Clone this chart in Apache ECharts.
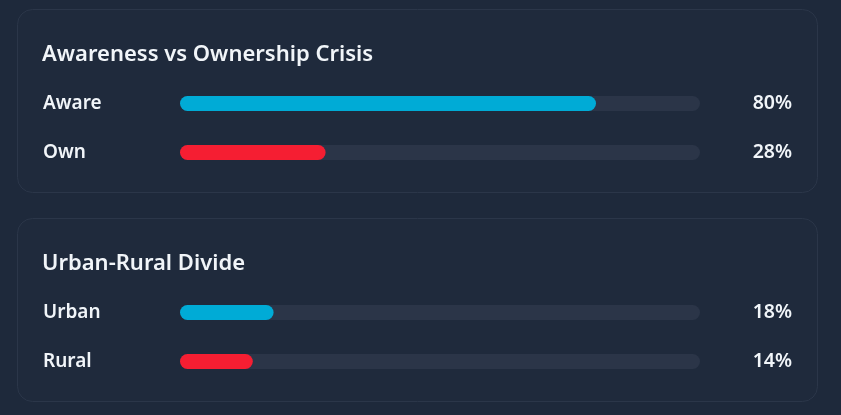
<!DOCTYPE html>
<html>
<head>
<meta charset="utf-8">
<script src="https://cdn.jsdelivr.net/npm/echarts@6/dist/echarts.min.js"></script>
<style>
  html, body { margin: 0; padding: 0; background: #1e293b; }
  #chart { width: 841px; height: 415px; }
</style>
</head>
<body>
<div id="chart"></div>
<script>
// panel 1
const awarenessTitle = 'Awareness vs Ownership Crisis';
const awarenessCats = ['Aware', 'Own'];
const awarenessValues = [80, 28];
// panel 2
const divideTitle = 'Urban-Rural Divide';
const divideCats = ['Urban', 'Rural'];
const divideValues = [18, 14];

const barColors = ['#00abd6', '#f51e32'];
const font = '"Noto Sans", "Open Sans", sans-serif';
const textColor = '#f1f5f9';

const chart = echarts.init(document.getElementById('chart'));

function axesFor(idx, cats, values) {
    return [
        {
            type: 'category', gridIndex: idx, data: cats, inverse: true, position: 'left',
            axisLine: { show: false }, axisTick: { show: false },
            axisLabel: { align: 'left', margin: 137, padding: [4, 0, 0, 0], color: textColor,
                         fontFamily: font, fontSize: 19, fontWeight: 600 }
        },
        {
            type: 'category', gridIndex: idx, data: cats, inverse: true, position: 'right',
            axisLine: { show: false }, axisTick: { show: false },
            axisLabel: {
                align: 'right', margin: 92, padding: [4, 0, 0, 0], color: textColor,
                fontFamily: font, fontSize: 19.5, fontWeight: 600,
                formatter: (v, i) => values[i] + '%'
            }
        }
    ];
}

function seriesFor(idx, values) {
    return {
        type: 'bar',
        xAxisIndex: idx,
        yAxisIndex: idx * 2,
        barWidth: 15,
        data: values.map((v, i) => ({ value: v, itemStyle: { color: barColors[i] } })),
        itemStyle: { borderRadius: 8 },
        showBackground: true,
        backgroundStyle: { color: '#2b3548', borderRadius: 8 },
        silent: true
    };
}

const option = {
    animation: false,
    backgroundColor: '#1e293b',
    graphic: [
        { type: 'rect', shape: { x: 17.5, y: 9.5, width: 800, height: 183, r: 15 },
          style: { fill: '#1f2a3c', stroke: '#2b3649', lineWidth: 1 }, z: -1 },
        { type: 'rect', shape: { x: 17.5, y: 218.5, width: 800, height: 183, r: 15 },
          style: { fill: '#1f2a3c', stroke: '#2b3649', lineWidth: 1 }, z: -1 }
    ],
    title: [
        { text: awarenessTitle, left: 42, top: 44, padding: 0,
          textStyle: { color: textColor, fontFamily: font, fontSize: 22, fontWeight: 600 } },
        { text: divideTitle, left: 42, top: 253, padding: 0,
          textStyle: { color: textColor, fontFamily: font, fontSize: 22, fontWeight: 600 } }
    ],
    grid: [
        { left: 180, right: 141, top: 79, height: 98 },
        { left: 180, right: 141, top: 288, height: 98 }
    ],
    xAxis: [0, 1].map(i => ({
        type: 'value', gridIndex: i, min: 0, max: 100, show: false
    })),
    yAxis: [
        ...axesFor(0, awarenessCats, awarenessValues),
        ...axesFor(1, divideCats, divideValues)
    ],
    series: [seriesFor(0, awarenessValues), seriesFor(1, divideValues)]
};

chart.setOption(option);
</script>
</body>
</html>
